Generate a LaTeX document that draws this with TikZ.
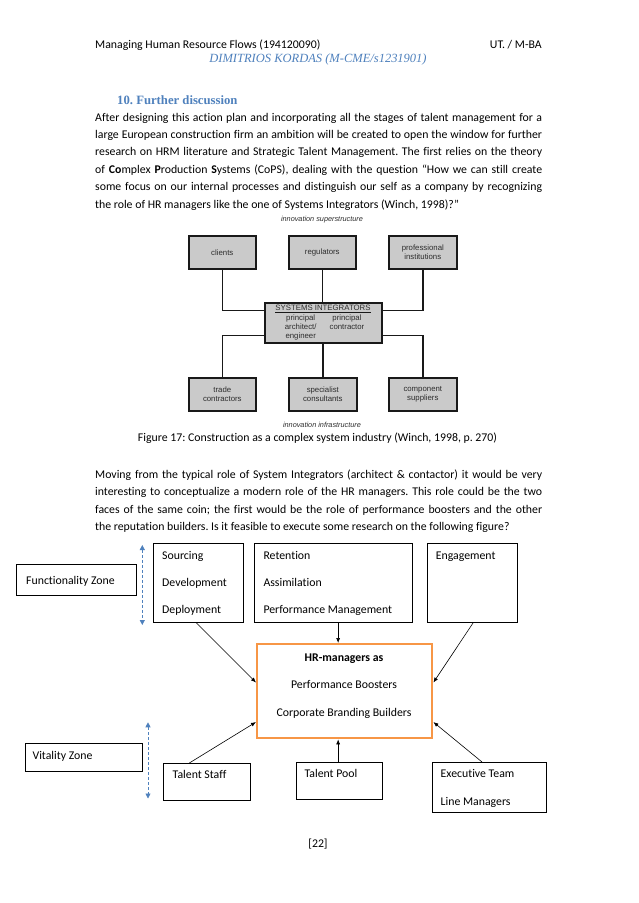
\documentclass[tikz,border=0pt]{standalone}
\usepackage{fontspec}
\setmainfont{Carlito}[Ligatures={NoCommon,NoContextual}]
\newfontfamily\serifhead{Liberation Serif}
\newfontfamily\figfont{Liberation Sans}
\usetikzlibrary{calc,arrows.meta}
\definecolor{hdblue}{RGB}{79,129,189}
\definecolor{orangeb}{RGB}{247,150,70}
\definecolor{figgrey}{RGB}{202,202,202}
\definecolor{figtxt}{RGB}{45,45,45}
\newcommand\jline[1]{\hbox to 447pt{#1}}
\frenchspacing
\begin{document}
\begin{tikzpicture}[x=1pt,y=-1pt,
  body/.style={font=\frenchspacing\fontsize{11.8}{17.4}\selectfont, inner sep=0pt},
  figbox/.style={draw=black!90, line width=1.6pt, fill=figgrey, inner sep=0pt, anchor=north west},
  figtext/.style={font=\figfont\fontsize{7.8}{8.8}\selectfont, text=figtxt, align=center, inner sep=0pt},
  figitalic/.style={font=\figfont\itshape\fontsize{7.3}{8}\selectfont, text=figtxt, inner sep=0pt},
  figline/.style={draw=black!90, line width=1.4pt},
  plainbox/.style={draw=black, line width=0.8pt, inner sep=0pt, anchor=north west},
  boxtext/.style={body, anchor=base west},
  conn/.style={draw=black, line width=0.6pt, -{Latex[length=5pt,width=4pt]}},
  zone/.style={draw=hdblue, line width=0.8pt, dash pattern=on 3pt off 2pt, {Triangle[length=5pt,width=5pt]}-{Triangle[length=5pt,width=5pt]}}
]
\useasboundingbox[fill=white] (0,0) rectangle (638,903);

% header
\node[body, anchor=base west] (hdleft) at (95,48) {Managing Human Resource Flows (194120090)};
\node[body, anchor=base east] (hdright) at (542,48) {UT. / M-BA};
\node[font=\serifhead\itshape\fontsize{12.5}{14}\selectfont, text=hdblue, anchor=base, inner sep=0pt] (author) at (318,62) {DIMITRIOS KORDAS (M-CME/s1231901)};

% title
\node[font=\serifhead\bfseries\fontsize{12.7}{14}\selectfont, text=hdblue, anchor=base west, inner sep=0pt] (title) at (117,104) {10. Further discussion};

% paragraph 1
\node[body, anchor=base west] (para1) at (95,121) {\vtop{\baselineskip=17.4pt
\jline{After designing this action plan and incorporating all the stages of talent management for a}
\jline{large European construction firm an ambition will be created to open the window for further}
\jline{research on HRM literature and Strategic Talent Management. The first relies on the theory}
\jline{of \textbf{Co}mplex \textbf{P}roduction \textbf{S}ystems (CoPS), dealing with the question “How we can still create}
\jline{some focus on our internal processes and distinguish our self as a company by recognizing}
\hbox{the role of HR managers like the one of Systems Integrators (Winch, 1998)?”}}};

% figure 17
\node[figitalic, anchor=base] (superlbl) at (322,221) {innovation superstructure};
\node[figbox, minimum width=67pt, minimum height=33pt] (clients) at (188,235) {};
\node[figbox, minimum width=67pt, minimum height=33pt] (regulators) at (288,235) {};
\node[figbox, minimum width=68pt, minimum height=33pt] (profinst) at (388,235) {};
\node[figtext] (clientstx) at (clients.center) {clients};
\node[figtext] (regulatorstx) at (regulators.center) {regulators};
\node[figtext] (profinsttx) at (profinst.center) {professional\\institutions};

\node[figbox, minimum width=117pt, minimum height=40pt] (si) at (264,302) {};
\node[figtext, anchor=base] (sititle) at (323,310.5) {SYSTEMS INTEGRATORS};
\draw[line width=1.2pt, draw=black!90] ($(sititle.base west)+(0,1.8)$) -- ($(sititle.base east)+(0,1.8)$);
\node[figtext, anchor=north] (siarch) at (300.7,315) {principal\\architect/\\engineer};
\node[figtext, anchor=north] (sicontr) at (347,315) {principal\\contractor};

\node[figbox, minimum width=67pt, minimum height=33pt] (trade) at (188,377) {};
\node[figbox, minimum width=68pt, minimum height=33pt] (specialist) at (288,377) {};
\node[figbox, minimum width=68pt, minimum height=33pt] (component) at (388,377) {};
\node[figtext] (tradetx) at (trade.center) {trade\\contractors};
\node[figtext] (specialisttx) at (specialist.center) {specialist\\consultants};
\node[figtext] (componenttx) at (component.center) {component\\suppliers};
\node[figitalic, anchor=base] (infralbl) at (322,427) {innovation infrastructure};

\coordinate (siL1) at ($(si.north west)!0.2!(si.south west)$);
\coordinate (siR1) at ($(si.north east)!0.2!(si.south east)$);
\coordinate (siL2) at ($(si.north west)!0.8!(si.south west)$);
\coordinate (siR2) at ($(si.north east)!0.8!(si.south east)$);
\draw[figline] (clients.south) |- (siL1);
\draw[figline] (profinst.south) |- (siR1);
\draw[figline] (regulators.south) -- (regulators.south |- si.north);
\draw[figline] (siL2) -| (trade.north);
\draw[figline] (siR2) -| (component.north);
\draw[figline] (specialist.north |- si.south) -- (specialist.north);

% caption
\node[body, anchor=base] (caption) at (317.5,441) {Figure 17: Construction as a complex system industry (Winch, 1998, p. 270)};

% paragraph 2
\node[body, anchor=base west] (para2) at (95,478) {\vtop{\baselineskip=17.5pt
\jline{Moving from the typical role of System Integrators (architect \& contactor) it would be very}
\jline{interesting to conceptualize a modern role of the HR managers. This role could be the two}
\jline{faces of the same coin; the first would be the role of performance boosters and the other}
\hbox{the reputation builders. Is it feasible to execute some research on the following figure?}}};

% bottom diagram
\node[plainbox, minimum width=120pt, minimum height=31pt] (funczone) at (16,564) {};
\node[boxtext] (funczonetx) at (26,584) {Functionality Zone};
\coordinate (za1) at (142.3,545);
\coordinate (za2) at (142.3,625);
\draw[zone] (za1) -- (za2);

\node[plainbox, minimum width=90pt, minimum height=79pt] (sourcing) at (152.7,543) {};
\node[boxtext] (sourcingtx) at (162,559.5) {\vtop{\baselineskip=26.8pt\hbox{Sourcing}\hbox{Development}\hbox{Deployment}}};
\node[plainbox, minimum width=157.7pt, minimum height=79pt] (retention) at (254,543) {};
\node[boxtext] (retentiontx) at (263.3,559.5) {\vtop{\baselineskip=26.8pt\hbox{Retention}\hbox{Assimilation}\hbox{Performance Management}}};
\node[plainbox, minimum width=89.7pt, minimum height=79pt] (engagement) at (427,543) {};
\node[boxtext] (engagementtx) at (435.7,559.5) {Engagement};

\node[plainbox, draw=orangeb, line width=2.4pt, minimum width=175pt, minimum height=94pt] (hr) at (256,643) {};
\node[body, anchor=base, align=center] (hrtx) at (344,661) {\vtop{\baselineskip=27.8pt\halign{\hfil#\hfil\cr\textbf{HR-managers as}\cr Performance Boosters\cr Corporate Branding Builders\cr}}};

\node[plainbox, minimum width=117pt, minimum height=27.5pt] (vitzone) at (24.5,743) {};
\node[boxtext] (vitzonetx) at (32.4,759.5) {Vitality Zone};
\coordinate (zb1) at (148,722.3);
\coordinate (zb2) at (148,798.5);
\draw[zone] (zb1) -- (zb2);

\node[plainbox, minimum width=87pt, minimum height=37pt] (tstaff) at (163,763) {};
\node[boxtext] (tstafftx) at (172.5,778) {Talent Staff};
\node[plainbox, minimum width=86.5pt, minimum height=37pt] (tpool) at (295.5,762) {};
\node[boxtext] (tpooltx) at (304.4,777.4) {Talent Pool};
\node[plainbox, minimum width=114pt, minimum height=50pt] (exec) at (431.5,762) {};
\node[boxtext] (exectx) at (440.5,777.5) {\vtop{\baselineskip=27.5pt\hbox{Executive Team}\hbox{Line Managers}}};

% connectors
\coordinate (hrL1) at ($(hr.north west)!0.41!(hr.south west)$);
\coordinate (hrL2) at ($(hr.north west)!0.82!(hr.south west)$);
\coordinate (hrR1) at ($(hr.north east)!0.41!(hr.south east)$);
\coordinate (hrR2) at ($(hr.north east)!0.82!(hr.south east)$);
\coordinate (hrT) at ($(hr.north west)!0.463!(hr.north east)$);
\coordinate (hrB) at ($(hr.south west)!0.463!(hr.south east)$);
\draw[conn] ($(sourcing.south west)!0.48!(sourcing.south east)$) -- (hrL1);
\draw[conn] (hrT |- retention.south) -- (hrT);
\draw[conn] ($(engagement.south west)!0.51!(engagement.south east)$) -- (hrR1);
\draw[conn] ($(tstaff.north west)!0.3!(tstaff.north east)$) -- (hrL2);
\draw[conn] (hrB |- tpool.north) -- (hrB);
\draw[conn] ($(exec.north west)!0.44!(exec.north east)$) -- (hrR2);

% page number
\node[body, anchor=base] (pagenum) at (318,847) {[22]};
\end{tikzpicture}
\end{document}
